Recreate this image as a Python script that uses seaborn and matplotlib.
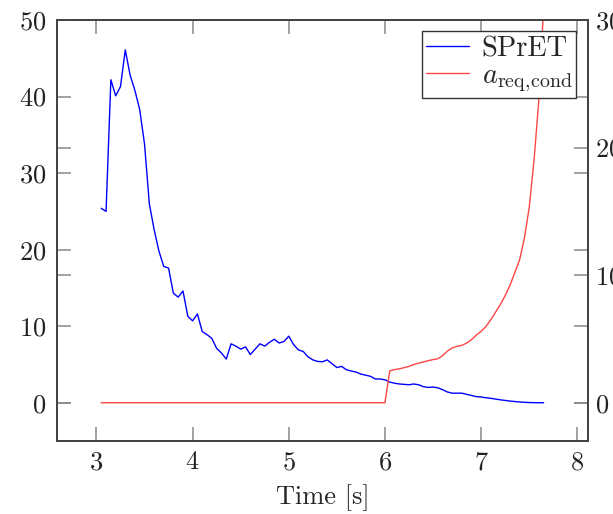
import matplotlib
matplotlib.use('Agg')
import matplotlib.pyplot as plt
import seaborn as sns
import pandas as pd

# sample times [s]
time_s = [3.05, 3.10, 3.15, 3.20, 3.25, 3.30, 3.35, 3.40, 3.45, 3.50,
          3.55, 3.60, 3.65, 3.70, 3.75, 3.80, 3.85, 3.90, 3.95, 4.00,
          4.05, 4.10, 4.15, 4.20, 4.25, 4.30, 4.35, 4.40, 4.45, 4.50,
          4.55, 4.60, 4.65, 4.70, 4.75, 4.80, 4.85, 4.90, 4.95, 5.00,
          5.05, 5.10, 5.15, 5.20, 5.25, 5.30, 5.35, 5.40, 5.45, 5.50,
          5.55, 5.60, 5.65, 5.70, 5.75, 5.80, 5.85, 5.90, 5.95, 6.00,
          6.05, 6.10, 6.15, 6.20, 6.25, 6.30, 6.35, 6.40, 6.45, 6.50,
          6.55, 6.60, 6.65, 6.70, 6.75, 6.80, 6.85, 6.90, 6.95, 7.00,
          7.05, 7.10, 7.15, 7.20, 7.25, 7.30, 7.35, 7.40, 7.45, 7.50,
          7.55, 7.60, 7.65]

spret = [25.4, 25.0, 42.2, 40.1, 41.3, 46.1, 42.8, 40.8, 38.3, 33.8,
         26.0, 22.6, 19.8, 17.8, 17.6, 14.3, 13.8, 14.6, 11.3, 10.7,
         11.6, 9.3, 8.9, 8.4, 7.1, 6.5, 5.7, 7.7, 7.4, 7.0,
         7.3, 6.3, 7.0, 7.7, 7.4, 7.9, 8.3, 7.8, 8.0, 8.7,
         7.6, 6.9, 6.7, 6.0, 5.6, 5.4, 5.35, 5.6, 5.1, 4.6,
         4.75, 4.3, 4.15, 4.0, 3.75, 3.6, 3.45, 3.1, 3.1, 3.0,
         2.7, 2.55, 2.45, 2.4, 2.35, 2.45, 2.35, 2.1, 2.0, 2.05,
         1.95, 1.7, 1.4, 1.25, 1.25, 1.25, 1.1, 0.95, 0.8, 0.75,
         0.65, 0.58, 0.48, 0.38, 0.3, 0.22, 0.16, 0.1, 0.06, 0.03,
         0.01, 0.0, 0.0]

a_req_cond = [0.0] * 60 + [
    2.5, 2.6, 2.66, 2.75, 2.85, 3.0, 3.1, 3.2, 3.3, 3.38,
    3.45, 3.7, 4.05, 4.3, 4.42, 4.5, 4.68, 4.95, 5.3, 5.6,
    5.97, 6.5, 7.1, 7.7, 8.4, 9.2, 10.2, 11.2, 12.9, 15.3,
    19.0, 23.7, 31.0]

left_ticks = [0, 10, 20, 30, 40, 50]
right_ticks = [0, 10, 20, 30]
x_ticks = [3, 4, 5, 6, 7, 8]

df = pd.DataFrame({'t': time_s, 'spret': spret, 'areq': a_req_cond})

sns.set_style('ticks')
plt.rcParams['font.family'] = ['cmr10', 'DejaVu Serif']
plt.rcParams['mathtext.fontset'] = 'cm'
plt.rcParams['axes.formatter.use_mathtext'] = True
plt.rcParams['axes.unicode_minus'] = False

fig = plt.figure(figsize=(6.13, 5.14), dpi=100)
ax = fig.add_axes([0.093, 0.142, 0.866, 0.819])
ax2 = ax.twinx()

sns.lineplot(data=df, x='t', y='spret', ax=ax, color='blue', lw=1.0, legend=False)
sns.lineplot(data=df, x='t', y='areq', ax=ax2, color='#ff4545', lw=1.0, legend=False)

ax.set_xlim(2.59, 8.11)
ax.set_ylim(-5, 50)
ax2.set_ylim(-3, 30)
ax.set_xticks(x_ticks)
ax.set_yticks(left_ticks)
ax2.set_yticks(right_ticks)

ax.set_xlabel('Time [s]', fontsize=19, labelpad=7)
ax.set_ylabel('')
ax2.set_ylabel('')

tick_kw = dict(direction='in', length=10, width=1.1, color='#888888',
               labelsize=19, labelcolor='#222222')
ax.tick_params(axis='x', top=True, pad=7, **tick_kw)
ax.tick_params(axis='y', right=True, labelright=False, pad=8, **tick_kw)
ax2.tick_params(axis='y', left=True, labelleft=False, right=True, pad=5, **tick_kw)

for a in (ax, ax2):
    for s in a.spines.values():
        s.set_color('#444444')
        s.set_linewidth(1.4)
        s.set_visible(True)

lines = ax.get_lines()[:1] + ax2.get_lines()[:1]
leg = ax2.legend(lines, ['SPrET', r'$a_{\mathrm{req,\!cond}}$'], loc='upper right',
                 fontsize=20.5, frameon=True, fancybox=False, framealpha=1,
                 edgecolor='#333333', borderpad=0.15, handlelength=1.5,
                 handletextpad=0.45, labelspacing=0.02, borderaxespad=0.4)
leg.get_frame().set_linewidth(1.0)

fig.savefig('out.png', dpi=100)
